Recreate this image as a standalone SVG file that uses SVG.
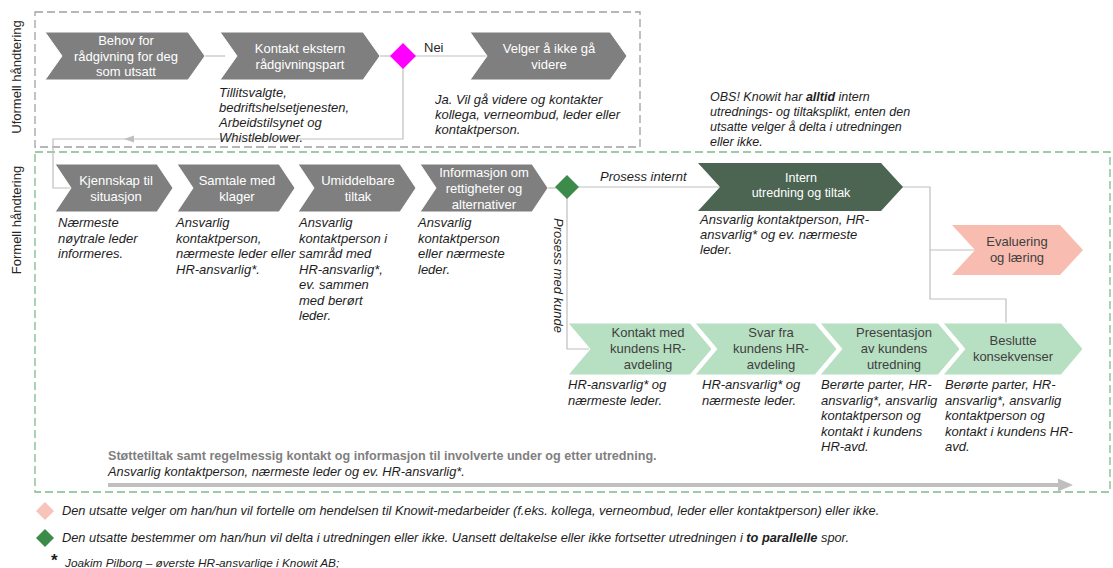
<svg xmlns="http://www.w3.org/2000/svg" width="1113" height="568" viewBox="0 0 1113 568">
<style>
text{font-family:"Liberation Sans",Arial,sans-serif}
.cg{fill:#7f7f7f;stroke:#fff;stroke-width:1}
.cd{fill:#4c6552}
.cs{fill:#f8bdb0}
.cl{fill:#b7dfc2;stroke:#fff;stroke-width:1}
.wt{fill:#fff;font-size:13px;text-anchor:middle}
.dt{fill:#404040;font-size:13px;text-anchor:middle}
.it{font-style:italic;font-size:13px;fill:#1e1e1e}
.lb{font-size:13px;fill:#262626}
.conn{stroke:#bfbfbf;stroke-width:1.2;fill:none}
.lg{font-style:italic;font-size:12.8px;fill:#1e1e1e}
</style>
<rect x="35" y="12" width="605" height="135" fill="none" stroke="#a0a0a0" stroke-width="1.3" stroke-dasharray="8 4"/>
<rect x="35" y="152" width="1075" height="340" fill="none" stroke="#7fba8b" stroke-width="1.3" stroke-dasharray="8 4"/>
<text class="lb" text-anchor="middle" transform="translate(21,77) rotate(-90)">Uformell håndtering</text>
<text class="lb" text-anchor="middle" transform="translate(21,220) rotate(-90)">Formell håndtering</text>

<g id="connectors">
<path class="conn" d="M200,56 H225"/>
<path class="conn" d="M378,56 H392"/>
<path class="conn" d="M414,56 H490"/>
<path class="conn" d="M403,68 V139 H53 V188 H75"/>
<polygon points="124,139 134,135.5 134,142.5" fill="#bfbfbf"/>
<path class="conn" d="M546,188 H557"/>
<path class="conn" d="M577,187 H722"/>
<path class="conn" d="M567,198 V349 H592"/>
<path class="conn" d="M900,187 H930 V299 H1006 V325"/>
<path class="conn" d="M930,250 H977"/>
<line x1="108" y1="485" x2="1062" y2="485" stroke="#bfbfbf" stroke-width="4"/>
<polygon points="1058,478.5 1073,485 1058,491.5" fill="#bfbfbf"/>
<text x="424" y="52" class="lb">Nei</text>
<text x="600" y="181" class="it">Prosess internt</text>
<text class="it" transform="translate(554,218) rotate(90)">Prosess med kunde</text>
</g>

<g id="behov">
<polygon class="cg" points="45,32 188,32 205,56 188,80 45,80 62,56"/>
<text class="wt" x="126" y="45">Behov for</text>
<text class="wt" x="126" y="61">rådgivning  for deg</text>
<text class="wt" x="126" y="76">som utsatt</text>
</g>
<g id="kontakt-ekstern">
<polygon class="cg" points="220,32 363,32 380,56 363,80 220,80 237,56"/>
<text class="wt" x="300" y="53">Kontakt ekstern</text>
<text class="wt" x="300" y="69">rådgivningspart</text>
<text class="it" x="219" y="97">Tillitsvalgte,</text>
<text class="it" x="219" y="112">bedriftshelsetjenesten,</text>
<text class="it" x="219" y="127">Arbeidstilsynet og</text>
<text class="it" x="219" y="142">Whistleblower.</text>
</g>
<g id="beslutning-1">
<polygon points="403,43 416,56 403,69 390,56" fill="#ff00ff"/>
<text class="it" x="435" y="104">Ja. Vil gå videre og kontakter</text>
<text class="it" x="435" y="119">kollega, verneombud, leder eller</text>
<text class="it" x="435" y="134">kontaktperson.</text>
</g>
<g id="velger">
<polygon class="cg" points="470,32 610,32 627,56 610,80 470,80 487,56"/>
<text class="wt" x="549" y="53">Velger å ikke gå</text>
<text class="wt" x="549" y="69">videre</text>
</g>
<g id="obs">
<text class="it" x="710" y="101" style="font-size:12.5px"><tspan>OBS! Knowit har </tspan><tspan font-weight="bold">alltid</tspan><tspan> intern</tspan></text>
<text class="it" x="710" y="116" style="font-size:12.5px">utrednings- og tiltaksplikt, enten den</text>
<text class="it" x="710" y="131" style="font-size:12.5px">utsatte velger å delta i utredningen</text>
<text class="it" x="710" y="146" style="font-size:12.5px">eller ikke.</text>
</g>

<g id="kjennskap">
<polygon class="cg" points="55,164 157,164 173,188 157,212 55,212 71,188"/>
<text class="wt" x="116" y="185">Kjennskap til</text>
<text class="wt" x="116" y="201">situasjon</text>
<text class="it" x="58" y="227">Nærmeste</text>
<text class="it" x="58" y="242.5">nøytrale leder</text>
<text class="it" x="58" y="258">informeres.</text>
</g>
<g id="samtale">
<polygon class="cg" points="177,164 279,164 295,188 279,212 177,212 193,188"/>
<text class="wt" x="237" y="185">Samtale med</text>
<text class="wt" x="237" y="201">klager</text>
<text class="it" x="176" y="227">Ansvarlig</text>
<text class="it" x="176" y="242.5">kontaktperson,</text>
<text class="it" x="176" y="258">nærmeste leder eller</text>
<text class="it" x="176" y="273.5">HR-ansvarlig*.</text>
</g>
<g id="umiddelbare">
<polygon class="cg" points="298,164 400,164 416,188 400,212 298,212 314,188"/>
<text class="wt" x="358" y="185">Umiddelbare</text>
<text class="wt" x="358" y="201">tiltak</text>
<text class="it" x="299" y="227">Ansvarlig</text>
<text class="it" x="299" y="242.5">kontaktperson i</text>
<text class="it" x="299" y="258">samråd med</text>
<text class="it" x="299" y="273.5">HR-ansvarlig*,</text>
<text class="it" x="299" y="289">ev. sammen</text>
<text class="it" x="299" y="304.5">med berørt</text>
<text class="it" x="299" y="320">leder.</text>
</g>
<g id="informasjon">
<polygon class="cg" points="420,164 532,164 548,188 532,212 420,212 436,188"/>
<text class="wt" x="484" y="177">Informasjon om</text>
<text class="wt" x="484" y="193">rettigheter og</text>
<text class="wt" x="484" y="209">alternativer</text>
<text class="it" x="418" y="227">Ansvarlig</text>
<text class="it" x="418" y="242.5">kontaktperson</text>
<text class="it" x="418" y="258">eller nærmeste</text>
<text class="it" x="418" y="273.5">leder.</text>
</g>
<g id="beslutning-2">
<polygon points="567,175 579,187 567,199 555,187" fill="#3c8b4b"/>
</g>
<g id="intern">
<polygon class="cd" points="698,163 881,163 903,187 881,211 698,211 720,187"/>
<text class="wt" x="801" y="182" style="font-size:12.5px">Intern</text>
<text class="wt" x="801" y="197" style="font-size:12.5px">utredning  og tiltak</text>
<text class="it" x="700" y="224">Ansvarlig kontaktperson, HR-</text>
<text class="it" x="700" y="239">ansvarlig* og ev. nærmeste</text>
<text class="it" x="700" y="254">leder.</text>
</g>
<g id="evaluering">
<polygon class="cs" points="952,225 1060,225 1083,250 1060,275 952,275 975,250"/>
<text class="dt" x="1017" y="246">Evaluering</text>
<text class="dt" x="1017" y="262">og læring</text>
</g>
<g id="kontakt-kunde">
<polygon class="cl" points="568,323 690,323 712,349 690,375 568,375 590,349"/>
<text class="dt" x="648" y="337">Kontakt med</text>
<text class="dt" x="648" y="353">kundens  HR-</text>
<text class="dt" x="648" y="369">avdeling</text>
<text class="it" x="568" y="389">HR-ansvarlig* og</text>
<text class="it" x="568" y="404.5">nærmeste leder.</text>
</g>
<g id="svar">
<polygon class="cl" points="695,323 815,323 837,349 815,375 695,375 717,349"/>
<text class="dt" x="771" y="337">Svar fra</text>
<text class="dt" x="771" y="353">kundens  HR-</text>
<text class="dt" x="771" y="369">avdeling</text>
<text class="it" x="702" y="389">HR-ansvarlig* og</text>
<text class="it" x="702" y="404.5">nærmeste leder.</text>
</g>
<g id="presentasjon">
<polygon class="cl" points="820,323 938,323 960,349 938,375 820,375 842,349"/>
<text class="dt" x="894" y="337">Presentasjon</text>
<text class="dt" x="894" y="353">av kundens</text>
<text class="dt" x="894" y="369">utredning</text>
<text class="it" x="821" y="389">Berørte parter, HR-</text>
<text class="it" x="821" y="404.5">ansvarlig*, ansvarlig</text>
<text class="it" x="821" y="420">kontaktperson og</text>
<text class="it" x="821" y="435.5">kontakt i kundens</text>
<text class="it" x="821" y="451">HR-avd.</text>
</g>
<g id="beslutte">
<polygon class="cl" points="943,323 1061,323 1083,349 1061,375 943,375 965,349"/>
<text class="dt" x="1013" y="345">Beslutte</text>
<text class="dt" x="1013" y="361">konsekvenser</text>
<text class="it" x="945" y="389">Berørte parter, HR-</text>
<text class="it" x="945" y="404.5">ansvarlig*, ansvarlig</text>
<text class="it" x="945" y="420">kontaktperson og</text>
<text class="it" x="945" y="435.5">kontakt i kundens HR-</text>
<text class="it" x="945" y="451">avd.</text>
</g>
<g id="stottetiltak">
<text x="108" y="460" style="font-size:12.6px;font-weight:bold;fill:#7f7f7f">Støttetiltak samt regelmessig  kontakt og informasjon til involverte under og etter utredning.</text>
<text class="it" x="108" y="476" style="font-size:12.8px">Ansvarlig kontaktperson, nærmeste leder og ev. HR-ansvarlig*.</text>
</g>
<g id="legend">
<polygon points="45,502 54,511 45,520 36,511" fill="#f8c3b8"/>
<text class="lg" x="62" y="515">Den utsatte velger om han/hun vil fortelle om hendelsen til Knowit-medarbeider (f.eks. kollega, verneombud, leder eller kontaktperson) eller ikke.</text>
<polygon points="45,529 54,538 45,547 36,538" fill="#3c8b4b"/>
<text class="lg" x="62" y="542"><tspan>Den utsatte bestemmer om han/hun vil delta i utredningen eller ikke. Uansett deltakelse eller ikke fortsetter utredningen i </tspan><tspan font-weight="bold">to parallelle</tspan><tspan> spor.</tspan></text>
<text x="51" y="566" style="font-size:17px;font-weight:bold;fill:#1e1e1e">*</text>
<text class="lg" x="65" y="567" style="font-size:11.8px">Joakim Pilborg – øverste HR-ansvarlige i Knowit AB;</text>
</g>
</svg>
